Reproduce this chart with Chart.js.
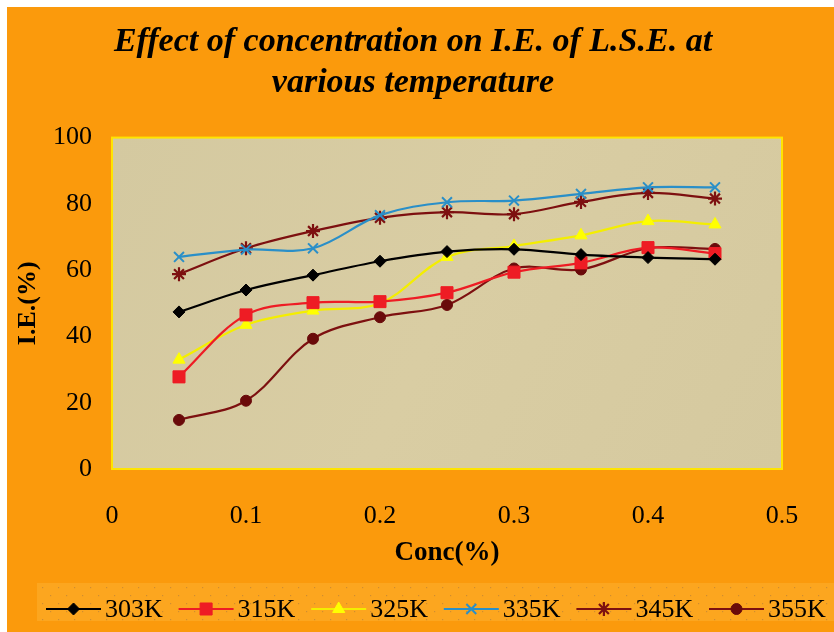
<!DOCTYPE html>
<html>
<head>
<meta charset="utf-8">
<script src="https://cdn.jsdelivr.net/npm/chart.js@4/dist/chart.umd.min.js"></script>
<style>
  html, body { margin: 0; padding: 0; background: #ffffff; }
  #wrap { width: 834px; height: 632px; }
</style>
</head>
<body>
<div id="wrap"><canvas id="c" width="834" height="632"></canvas></div>
<script>
// Inhibition efficiency (%) against inhibitor concentration (%) at six temperatures
const concentrations = [0.05, 0.1, 0.15, 0.2, 0.25, 0.3, 0.35, 0.4, 0.45];
const temperatures = ['303K', '315K', '325K', '335K', '345K', '355K'];
const ie303 = [47.4, 54.0, 58.5, 62.7, 65.6, 66.3, 64.7, 63.8, 63.3];
const ie315 = [27.8, 46.5, 50.2, 50.5, 53.2, 59.4, 62.2, 66.8, 65.0];
const ie325 = [33.0, 43.5, 47.8, 50.0, 64.0, 67.3, 70.5, 74.8, 73.8];
const ie335 = [64.0, 66.2, 66.6, 76.6, 80.5, 81.0, 83.0, 85.0, 85.0];
const ie345 = [58.8, 66.6, 71.8, 75.8, 77.5, 76.9, 80.6, 83.3, 81.6];
const ie355 = [14.8, 20.6, 39.3, 45.8, 49.5, 60.5, 60.2, 66.6, 66.4];
const xTicks = [0, 0.1, 0.2, 0.3, 0.4, 0.5];
const yTicks = [0, 20, 40, 60, 80, 100];

const seriesValues = [ie303, ie315, ie325, ie335, ie345, ie355];
const seriesStyles = [
  { line: '#000000', fill: '#000000', pointStyle: 'rectRot', radius: 6, bw: 1 },
  { line: '#ee1c24', fill: '#ee1c24', pointStyle: 'rect', radius: 8.5, bw: 1 },
  { line: '#f4ee00', fill: '#ffff00', pointStyle: 'triangle', radius: 7, bw: 1 },
  { line: '#2a8fc8', fill: '#2a8fc8', pointStyle: 'crossRot', radius: 7, bw: 2 },
  { line: '#7d1010', fill: '#7d1010', pointStyle: 'star', radius: 7, bw: 2.2 },
  { line: '#7d1010', fill: '#6a0a0a', pointStyle: 'circle', radius: 5.5, bw: 1 }
];

const ORANGE = '#fb9a0c';
const SERIF = "'Liberation Serif', 'Times New Roman', serif";

const datasets = temperatures.map((name, i) => {
  const s = seriesStyles[i];
  return {
    label: name,
    data: concentrations.map((x, j) => ({ x: x, y: seriesValues[i][j] })),
    borderColor: s.line,
    backgroundColor: s.fill,
    borderWidth: 2.2,
    pointStyle: s.pointStyle,
    pointRadius: s.radius,
    pointBackgroundColor: s.fill,
    pointBorderColor: s.fill,
    pointBorderWidth: s.bw,
    tension: 0.35,
    fill: false
  };
});

// Dotted texture for the legend strip
function dotPattern(ctx) {
  const p = document.createElement('canvas');
  p.width = 16; p.height = 16;
  const g = p.getContext('2d');
  g.fillStyle = 'rgba(255, 190, 70, 0.35)';
  g.fillRect(0, 0, 16, 16);
  g.fillStyle = 'rgba(150, 110, 70, 0.45)';
  g.fillRect(2, 3, 1.2, 1.2);
  g.fillRect(10, 11, 1.2, 1.2);
  return ctx.createPattern(p, 'repeat');
}

const backdrop = {
  id: 'backdrop',
  beforeDraw(chart) {
    const { ctx, chartArea: a } = chart;
    ctx.save();
    ctx.fillStyle = '#ffffff';
    ctx.fillRect(0, 0, chart.width, chart.height);
    ctx.fillStyle = ORANGE;
    ctx.fillRect(7, 7, chart.width - 7, chart.height - 7);
    // plot area fill
    const grad = ctx.createLinearGradient(a.left, a.top, a.right, a.bottom);
    grad.addColorStop(0, '#d4c9a0');
    grad.addColorStop(0.5, '#d9cda3');
    grad.addColorStop(1, '#d5c99f');
    ctx.fillStyle = grad;
    ctx.fillRect(a.left, a.top, a.right - a.left, a.bottom - a.top);
    ctx.strokeStyle = '#ffe400';
    ctx.lineWidth = 2;
    ctx.strokeRect(a.left, a.top, a.right - a.left, a.bottom - a.top);
    ctx.restore();
  },
  afterDraw(chart) {
    const ctx = chart.ctx;
    ctx.save();
    // legend strip
    ctx.fillStyle = dotPattern(ctx);
    ctx.fillRect(37, 583, chart.width - 37, 38);
    const y = 609;
    chart.data.datasets.forEach((ds, i) => {
      const lx = 46 + 132.6 * i;
      ctx.strokeStyle = ds.borderColor;
      ctx.lineWidth = 2.2;
      ctx.beginPath();
      ctx.moveTo(lx, y);
      ctx.lineTo(lx + 55, y);
      ctx.stroke();
      ctx.fillStyle = ds.pointBackgroundColor;
      ctx.strokeStyle = ds.pointBorderColor;
      ctx.lineWidth = ds.pointBorderWidth;
      Chart.helpers.drawPoint(ctx, {
        pointStyle: ds.pointStyle,
        radius: ds.pointRadius,
        rotation: 0,
        borderWidth: ds.pointBorderWidth
      }, lx + 27.5, y);
      ctx.fillStyle = '#000000';
      ctx.font = '26px ' + SERIF;
      ctx.textBaseline = 'middle';
      ctx.textAlign = 'left';
      ctx.fillText(ds.label, lx + 59, y + 1);
    });
    ctx.restore();
  }
};

new Chart(document.getElementById('c'), {
  type: 'line',
  data: { datasets: datasets },
  plugins: [backdrop],
  options: {
    responsive: false,
    animation: false,
    devicePixelRatio: 1,
    layout: { padding: { left: 0, top: 0, right: 8, bottom: 0 } },
    plugins: {
      legend: { display: false },
      tooltip: { enabled: false },
      title: {
        display: true,
        text: ['Effect of concentration on I.E. of L.S.E. at', 'various temperature'],
        color: '#000000',
        font: { family: SERIF, size: 34, weight: 'bold', style: 'italic', lineHeight: 1.2 },
        padding: { top: 22, bottom: 34 }
      }
    },
    scales: {
      x: {
        type: 'linear',
        min: 0,
        max: 0.5,
        afterBuildTicks(scale) { scale.ticks = xTicks.map(v => ({ value: v })); },
        afterFit(scale) { scale.height = 163; },
        grid: { display: false, drawTicks: false },
        border: { display: false },
        ticks: {
          color: '#000000',
          padding: 32,
          font: { family: SERIF, size: 26 },
          callback: v => String(v)
        },
        title: {
          display: true,
          text: 'Conc(%)',
          color: '#000000',
          font: { family: SERIF, size: 27, weight: 'bold', lineHeight: 1.2 },
          padding: { top: 0, bottom: 63 }
        }
      },
      y: {
        min: 0,
        max: 100,
        afterBuildTicks(scale) { scale.ticks = yTicks.map(v => ({ value: v })); },
        afterFit(scale) { scale.width = 112; },
        grid: { display: false, drawTicks: false },
        border: { display: false },
        ticks: {
          color: '#000000',
          padding: 20,
          font: { family: SERIF, size: 26 }
        },
        title: {
          display: true,
          text: 'I.E.(%)',
          color: '#000000',
          font: { family: SERIF, size: 26, weight: 'bold', lineHeight: 1.2 },
          padding: { top: 13, bottom: 0 }
        }
      },
      // empty margin on the right of the plot so the title centres on the page
      yMargin: {
        type: 'linear',
        position: 'right',
        afterFit(scale) { scale.width = 44; },
        grid: { display: false, drawTicks: false },
        border: { display: false },
        ticks: { display: false }
      }
    }
  }
});
</script>
</body>
</html>
